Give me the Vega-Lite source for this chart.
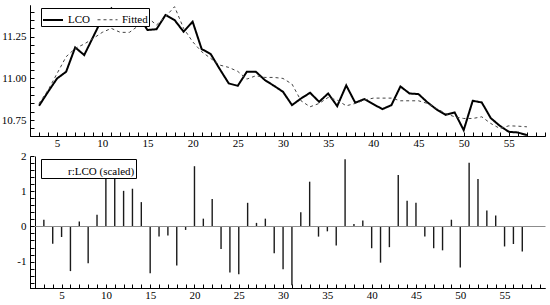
{
  "$schema": "https://vega.github.io/schema/vega-lite/v6.json",
  "padding": {"left": 1, "top": 4, "right": 5, "bottom": 0},
  "background": "white",
  "config": {
    "view": {"stroke": null},
    "font": "Liberation Serif"
  },
  "resolve": {
    "scale": {"color": "independent", "strokeDash": "independent", "strokeWidth": "independent"},
    "legend": {"color": "independent", "strokeDash": "independent", "strokeWidth": "independent"}
  },
  "datasets": {
    "top": [
      {"t":3,"series":"LCO","value":10.836},{"t":4,"series":"LCO","value":10.92},{"t":5,"series":"LCO","value":11.0},{"t":6,"series":"LCO","value":11.04},
      {"t":7,"series":"LCO","value":11.186},{"t":8,"series":"LCO","value":11.14},{"t":9,"series":"LCO","value":11.25},{"t":10,"series":"LCO","value":11.36},
      {"t":11,"series":"LCO","value":11.42},{"t":12,"series":"LCO","value":11.34},{"t":13,"series":"LCO","value":11.34},{"t":14,"series":"LCO","value":11.376},
      {"t":15,"series":"LCO","value":11.29},{"t":16,"series":"LCO","value":11.295},{"t":17,"series":"LCO","value":11.38},{"t":18,"series":"LCO","value":11.35},
      {"t":19,"series":"LCO","value":11.28},{"t":20,"series":"LCO","value":11.34},{"t":21,"series":"LCO","value":11.176},{"t":22,"series":"LCO","value":11.146},
      {"t":23,"series":"LCO","value":11.056},{"t":24,"series":"LCO","value":10.97},{"t":25,"series":"LCO","value":10.956},{"t":26,"series":"LCO","value":11.04},
      {"t":27,"series":"LCO","value":11.04},{"t":28,"series":"LCO","value":10.99},{"t":29,"series":"LCO","value":10.956},{"t":30,"series":"LCO","value":10.92},
      {"t":31,"series":"LCO","value":10.84},{"t":32,"series":"LCO","value":10.88},{"t":33,"series":"LCO","value":10.914},{"t":34,"series":"LCO","value":10.86},
      {"t":35,"series":"LCO","value":10.91},{"t":36,"series":"LCO","value":10.834},{"t":37,"series":"LCO","value":10.958},{"t":38,"series":"LCO","value":10.854},
      {"t":39,"series":"LCO","value":10.876},{"t":40,"series":"LCO","value":10.846},{"t":41,"series":"LCO","value":10.816},{"t":42,"series":"LCO","value":10.84},
      {"t":43,"series":"LCO","value":10.952},{"t":44,"series":"LCO","value":10.91},{"t":45,"series":"LCO","value":10.906},{"t":46,"series":"LCO","value":10.856},
      {"t":47,"series":"LCO","value":10.814},{"t":48,"series":"LCO","value":10.782},{"t":49,"series":"LCO","value":10.796},{"t":50,"series":"LCO","value":10.69},
      {"t":51,"series":"LCO","value":10.866},{"t":52,"series":"LCO","value":10.856},{"t":53,"series":"LCO","value":10.762},{"t":54,"series":"LCO","value":10.716},
      {"t":55,"series":"LCO","value":10.68},{"t":56,"series":"LCO","value":10.676},{"t":57,"series":"LCO","value":10.66},
      {"t":3,"series":"Fitted","value":10.85},{"t":4,"series":"Fitted","value":10.93},{"t":5,"series":"Fitted","value":11.03},{"t":6,"series":"Fitted","value":11.13},
      {"t":7,"series":"Fitted","value":11.18},{"t":8,"series":"Fitted","value":11.206},{"t":9,"series":"Fitted","value":11.24},{"t":10,"series":"Fitted","value":11.276},
      {"t":11,"series":"Fitted","value":11.3},{"t":12,"series":"Fitted","value":11.276},{"t":13,"series":"Fitted","value":11.276},{"t":14,"series":"Fitted","value":11.316},
      {"t":15,"series":"Fitted","value":11.366},{"t":16,"series":"Fitted","value":11.32},{"t":17,"series":"Fitted","value":11.37},{"t":18,"series":"Fitted","value":11.43},
      {"t":19,"series":"Fitted","value":11.3},{"t":20,"series":"Fitted","value":11.22},{"t":21,"series":"Fitted","value":11.16},{"t":22,"series":"Fitted","value":11.12},
      {"t":23,"series":"Fitted","value":11.08},{"t":24,"series":"Fitted","value":11.066},{"t":25,"series":"Fitted","value":11.042},{"t":26,"series":"Fitted","value":10.996},
      {"t":27,"series":"Fitted","value":11.016},{"t":28,"series":"Fitted","value":11.006},{"t":29,"series":"Fitted","value":11.006},{"t":30,"series":"Fitted","value":11.0},
      {"t":31,"series":"Fitted","value":10.966},{"t":32,"series":"Fitted","value":10.866},{"t":33,"series":"Fitted","value":10.83},{"t":34,"series":"Fitted","value":10.85},
      {"t":35,"series":"Fitted","value":10.886},{"t":36,"series":"Fitted","value":10.87},{"t":37,"series":"Fitted","value":10.836},{"t":38,"series":"Fitted","value":10.85},
      {"t":39,"series":"Fitted","value":10.87},{"t":40,"series":"Fitted","value":10.882},{"t":41,"series":"Fitted","value":10.882},{"t":42,"series":"Fitted","value":10.882},
      {"t":43,"series":"Fitted","value":10.866},{"t":44,"series":"Fitted","value":10.866},{"t":45,"series":"Fitted","value":10.866},{"t":46,"series":"Fitted","value":10.85},
      {"t":47,"series":"Fitted","value":10.82},{"t":48,"series":"Fitted","value":10.79},{"t":49,"series":"Fitted","value":10.77},{"t":50,"series":"Fitted","value":10.76},
      {"t":51,"series":"Fitted","value":10.76},{"t":52,"series":"Fitted","value":10.77},{"t":53,"series":"Fitted","value":10.73},{"t":54,"series":"Fitted","value":10.7},
      {"t":55,"series":"Fitted","value":10.716},{"t":56,"series":"Fitted","value":10.714},{"t":57,"series":"Fitted","value":10.71}
    ],
    "resid": [
      {"t":3,"series":"r:LCO (scaled)","value":0.19},{"t":4,"series":"r:LCO (scaled)","value":-0.49},{"t":5,"series":"r:LCO (scaled)","value":-0.3},
      {"t":6,"series":"r:LCO (scaled)","value":-1.27},{"t":7,"series":"r:LCO (scaled)","value":0.14},{"t":8,"series":"r:LCO (scaled)","value":-1.05},
      {"t":9,"series":"r:LCO (scaled)","value":0.33},{"t":10,"series":"r:LCO (scaled)","value":1.36},{"t":11,"series":"r:LCO (scaled)","value":1.91},
      {"t":12,"series":"r:LCO (scaled)","value":1.01},{"t":13,"series":"r:LCO (scaled)","value":1.07},{"t":14,"series":"r:LCO (scaled)","value":0.69},
      {"t":15,"series":"r:LCO (scaled)","value":-1.33},{"t":16,"series":"r:LCO (scaled)","value":-0.29},{"t":17,"series":"r:LCO (scaled)","value":-0.26},
      {"t":18,"series":"r:LCO (scaled)","value":-1.11},{"t":19,"series":"r:LCO (scaled)","value":-0.1},{"t":20,"series":"r:LCO (scaled)","value":1.71},
      {"t":21,"series":"r:LCO (scaled)","value":0.22},{"t":22,"series":"r:LCO (scaled)","value":0.78},{"t":23,"series":"r:LCO (scaled)","value":-0.64},
      {"t":24,"series":"r:LCO (scaled)","value":-1.31},{"t":25,"series":"r:LCO (scaled)","value":-1.36},{"t":26,"series":"r:LCO (scaled)","value":0.67},
      {"t":27,"series":"r:LCO (scaled)","value":0.1},{"t":28,"series":"r:LCO (scaled)","value":0.22},{"t":29,"series":"r:LCO (scaled)","value":-0.76},
      {"t":30,"series":"r:LCO (scaled)","value":-1.22},{"t":31,"series":"r:LCO (scaled)","value":-1.67},{"t":32,"series":"r:LCO (scaled)","value":0.4},
      {"t":33,"series":"r:LCO (scaled)","value":1.27},{"t":34,"series":"r:LCO (scaled)","value":-0.29},{"t":35,"series":"r:LCO (scaled)","value":-0.14},
      {"t":36,"series":"r:LCO (scaled)","value":-0.54},{"t":37,"series":"r:LCO (scaled)","value":1.91},{"t":38,"series":"r:LCO (scaled)","value":0.07},
      {"t":39,"series":"r:LCO (scaled)","value":0.17},{"t":40,"series":"r:LCO (scaled)","value":-0.62},{"t":41,"series":"r:LCO (scaled)","value":-1.03},
      {"t":42,"series":"r:LCO (scaled)","value":-0.59},{"t":43,"series":"r:LCO (scaled)","value":1.46},{"t":44,"series":"r:LCO (scaled)","value":0.73},
      {"t":45,"series":"r:LCO (scaled)","value":0.67},{"t":46,"series":"r:LCO (scaled)","value":-0.29},{"t":47,"series":"r:LCO (scaled)","value":-0.62},
      {"t":48,"series":"r:LCO (scaled)","value":-0.68},{"t":49,"series":"r:LCO (scaled)","value":0.19},{"t":50,"series":"r:LCO (scaled)","value":-1.17},
      {"t":51,"series":"r:LCO (scaled)","value":1.81},{"t":52,"series":"r:LCO (scaled)","value":1.35},{"t":53,"series":"r:LCO (scaled)","value":0.45},
      {"t":54,"series":"r:LCO (scaled)","value":0.31},{"t":55,"series":"r:LCO (scaled)","value":-0.57},{"t":56,"series":"r:LCO (scaled)","value":-0.5},
      {"t":57,"series":"r:LCO (scaled)","value":-0.71}
    ]
  },
  "vconcat": [
    {
      "width": 515,
      "height": 131,
      "data": {"name": "top"},
      "mark": {"type": "line", "strokeJoin": "miter"},
      "encoding": {
        "x": {
          "field": "t", "type": "quantitative",
          "scale": {"domain": [2, 59], "nice": false, "zero": false},
          "axis": {
            "values": [2,3,4,5,6,7,8,9,10,11,12,13,14,15,16,17,18,19,20,21,22,23,24,25,26,27,28,29,30,31,32,33,34,35,36,37,38,39,40,41,42,43,44,45,46,47,48,49,50,51,52,53,54,55,56,57,58,59],
            "labelExpr": "datum.value % 5 === 0 ? datum.label : ''",
            "title": null,
            "grid": true,
            "gridColor": "#000000",
            "gridWidth": 1,
            "gridOpacity": {"condition": {"test": "datum.value === 2", "value": 1}, "value": 0},
            "domain": true, "domainColor": "#000000", "domainWidth": 1,
            "ticks": true, "tickColor": "#000000", "tickWidth": 1, "tickSize": -4,
            "labelFont": "Liberation Serif", "labelFontSize": 11, "labelColor": "#000000",
            "labelPadding": 5,
            "zindex": 1
          }
        },
        "y": {
          "field": "value", "type": "quantitative",
          "scale": {"domain": [10.655, 11.44], "nice": false, "zero": false},
          "axis": {
            "values": [10.655,10.7,10.75,10.8,10.85,10.9,10.95,11.0,11.05,11.1,11.15,11.2,11.25,11.3,11.35,11.4],
            "labelExpr": "abs(datum.value*4 - round(datum.value*4)) < 0.000001 ? format(datum.value, '.2f') : ''",
            "title": null,
            "grid": true,
            "gridColor": "#000000",
            "gridWidth": 1,
            "gridOpacity": {"condition": {"test": "abs(datum.value - 10.655) < 0.000001", "value": 1}, "value": 0},
            "domain": true, "domainColor": "#000000", "domainWidth": 1,
            "ticks": true, "tickColor": "#000000", "tickWidth": 1, "tickSize": -4,
            "labelFont": "Liberation Serif", "labelFontSize": 11, "labelColor": "#000000",
            "labelPadding": 8,
            "zindex": 1
          }
        },
        "strokeDash": {
          "field": "series", "type": "nominal",
          "scale": {"domain": ["LCO", "Fitted"], "range": [[1, 0], [3, 3]]},
          "legend": {"title": null, "orient": "none", "legendX": 11, "legendY": 3, "direction": "horizontal", "symbolType": "stroke", "symbolSize": 400, "labelFont": "Liberation Serif", "labelFontSize": 11, "labelColor": "black", "labelOffset": 4, "columnPadding": 5, "padding": 1, "strokeColor": "black", "fillColor": "white"}
        },
        "strokeWidth": {
          "field": "series", "type": "nominal",
          "scale": {"domain": ["LCO", "Fitted"], "range": [2, 1]},
          "legend": {"title": null, "orient": "none", "legendX": 11, "legendY": 3, "direction": "horizontal", "symbolType": "stroke", "symbolSize": 400, "labelFont": "Liberation Serif", "labelFontSize": 11, "labelColor": "black", "labelOffset": 4, "columnPadding": 5, "padding": 1, "strokeColor": "black", "fillColor": "white"}
        },
        "color": {
          "field": "series", "type": "nominal",
          "scale": {"domain": ["LCO", "Fitted"], "range": ["#000000", "#444444"]},
          "legend": {"title": null, "orient": "none", "legendX": 11, "legendY": 3, "direction": "horizontal", "symbolType": "stroke", "symbolSize": 400, "labelFont": "Liberation Serif", "labelFontSize": 11, "labelColor": "black", "labelOffset": 4, "columnPadding": 5, "padding": 1, "strokeColor": "black", "fillColor": "white"}
        }
      }
    },
    {
      "width": 515,
      "height": 132,
      "data": {"name": "resid"},
      "mark": {"type": "bar", "size": 1.4},
      "encoding": {
        "x": {
          "field": "t", "type": "quantitative",
          "scale": {"domain": [2, 59], "nice": false, "zero": false},
          "axis": {
            "values": [2,3,4,5,6,7,8,9,10,11,12,13,14,15,16,17,18,19,20,21,22,23,24,25,26,27,28,29,30,31,32,33,34,35,36,37,38,39,40,41,42,43,44,45,46,47,48,49,50,51,52,53,54,55,56,57,58,59],
            "labelExpr": "datum.value % 5 === 0 ? datum.label : ''",
            "title": null,
            "grid": true,
            "gridColor": "#000000",
            "gridWidth": 1,
            "gridOpacity": {"condition": {"test": "datum.value === 2", "value": 1}, "value": 0},
            "domain": true, "domainColor": "#000000", "domainWidth": 1,
            "ticks": true, "tickColor": "#000000", "tickWidth": 1, "tickSize": -4,
            "labelFont": "Liberation Serif", "labelFontSize": 11, "labelColor": "#000000",
            "labelPadding": 5,
            "zindex": 1
          }
        },
        "y": {
          "field": "value", "type": "quantitative",
          "scale": {"domain": [-1.75, 2], "nice": false},
          "axis": {
            "values": [-1.75,-1.6,-1.4,-1.2,-1,-0.8,-0.6,-0.4,-0.2,0,0.2,0.4,0.6,0.8,1,1.2,1.4,1.6,1.8,2],
            "labelExpr": "abs(datum.value - round(datum.value)) < 0.000001 ? (datum.value < -0.5 ? '-' + format(-datum.value, '.0f') : format(datum.value, '.0f')) : ''",
            "title": null,
            "grid": true,
            "gridWidth": 1,
            "gridColor": {"condition": {"test": "abs(datum.value + 1.75) < 0.000001", "value": "#000000"}, "value": "#8c8c8c"},
            "gridOpacity": {"condition": {"test": "abs(datum.value) < 0.000001 || abs(datum.value + 1.75) < 0.000001", "value": 1}, "value": 0},
            "domain": true, "domainColor": "#000000", "domainWidth": 1,
            "ticks": true, "tickColor": "#000000", "tickWidth": 1, "tickSize": -4,
            "labelFont": "Liberation Serif", "labelFontSize": 11, "labelColor": "#000000",
            "labelPadding": 8,
            "zindex": 1
          }
        },
        "color": {
          "field": "series", "type": "nominal",
          "scale": {"domain": ["r:LCO (scaled)"], "range": ["#1a1a1a"]},
          "legend": {"title": null, "orient": "none", "legendX": 11, "legendY": 3, "direction": "horizontal", "symbolType": "stroke", "symbolSize": 484, "symbolStrokeWidth": 1, "labelFont": "Liberation Serif", "labelFontSize": 11, "labelColor": "black", "labelOffset": 3, "padding": 1, "strokeColor": "black", "fillColor": "white"}
        }
      }
    }
  ],
  "spacing": 2
}
